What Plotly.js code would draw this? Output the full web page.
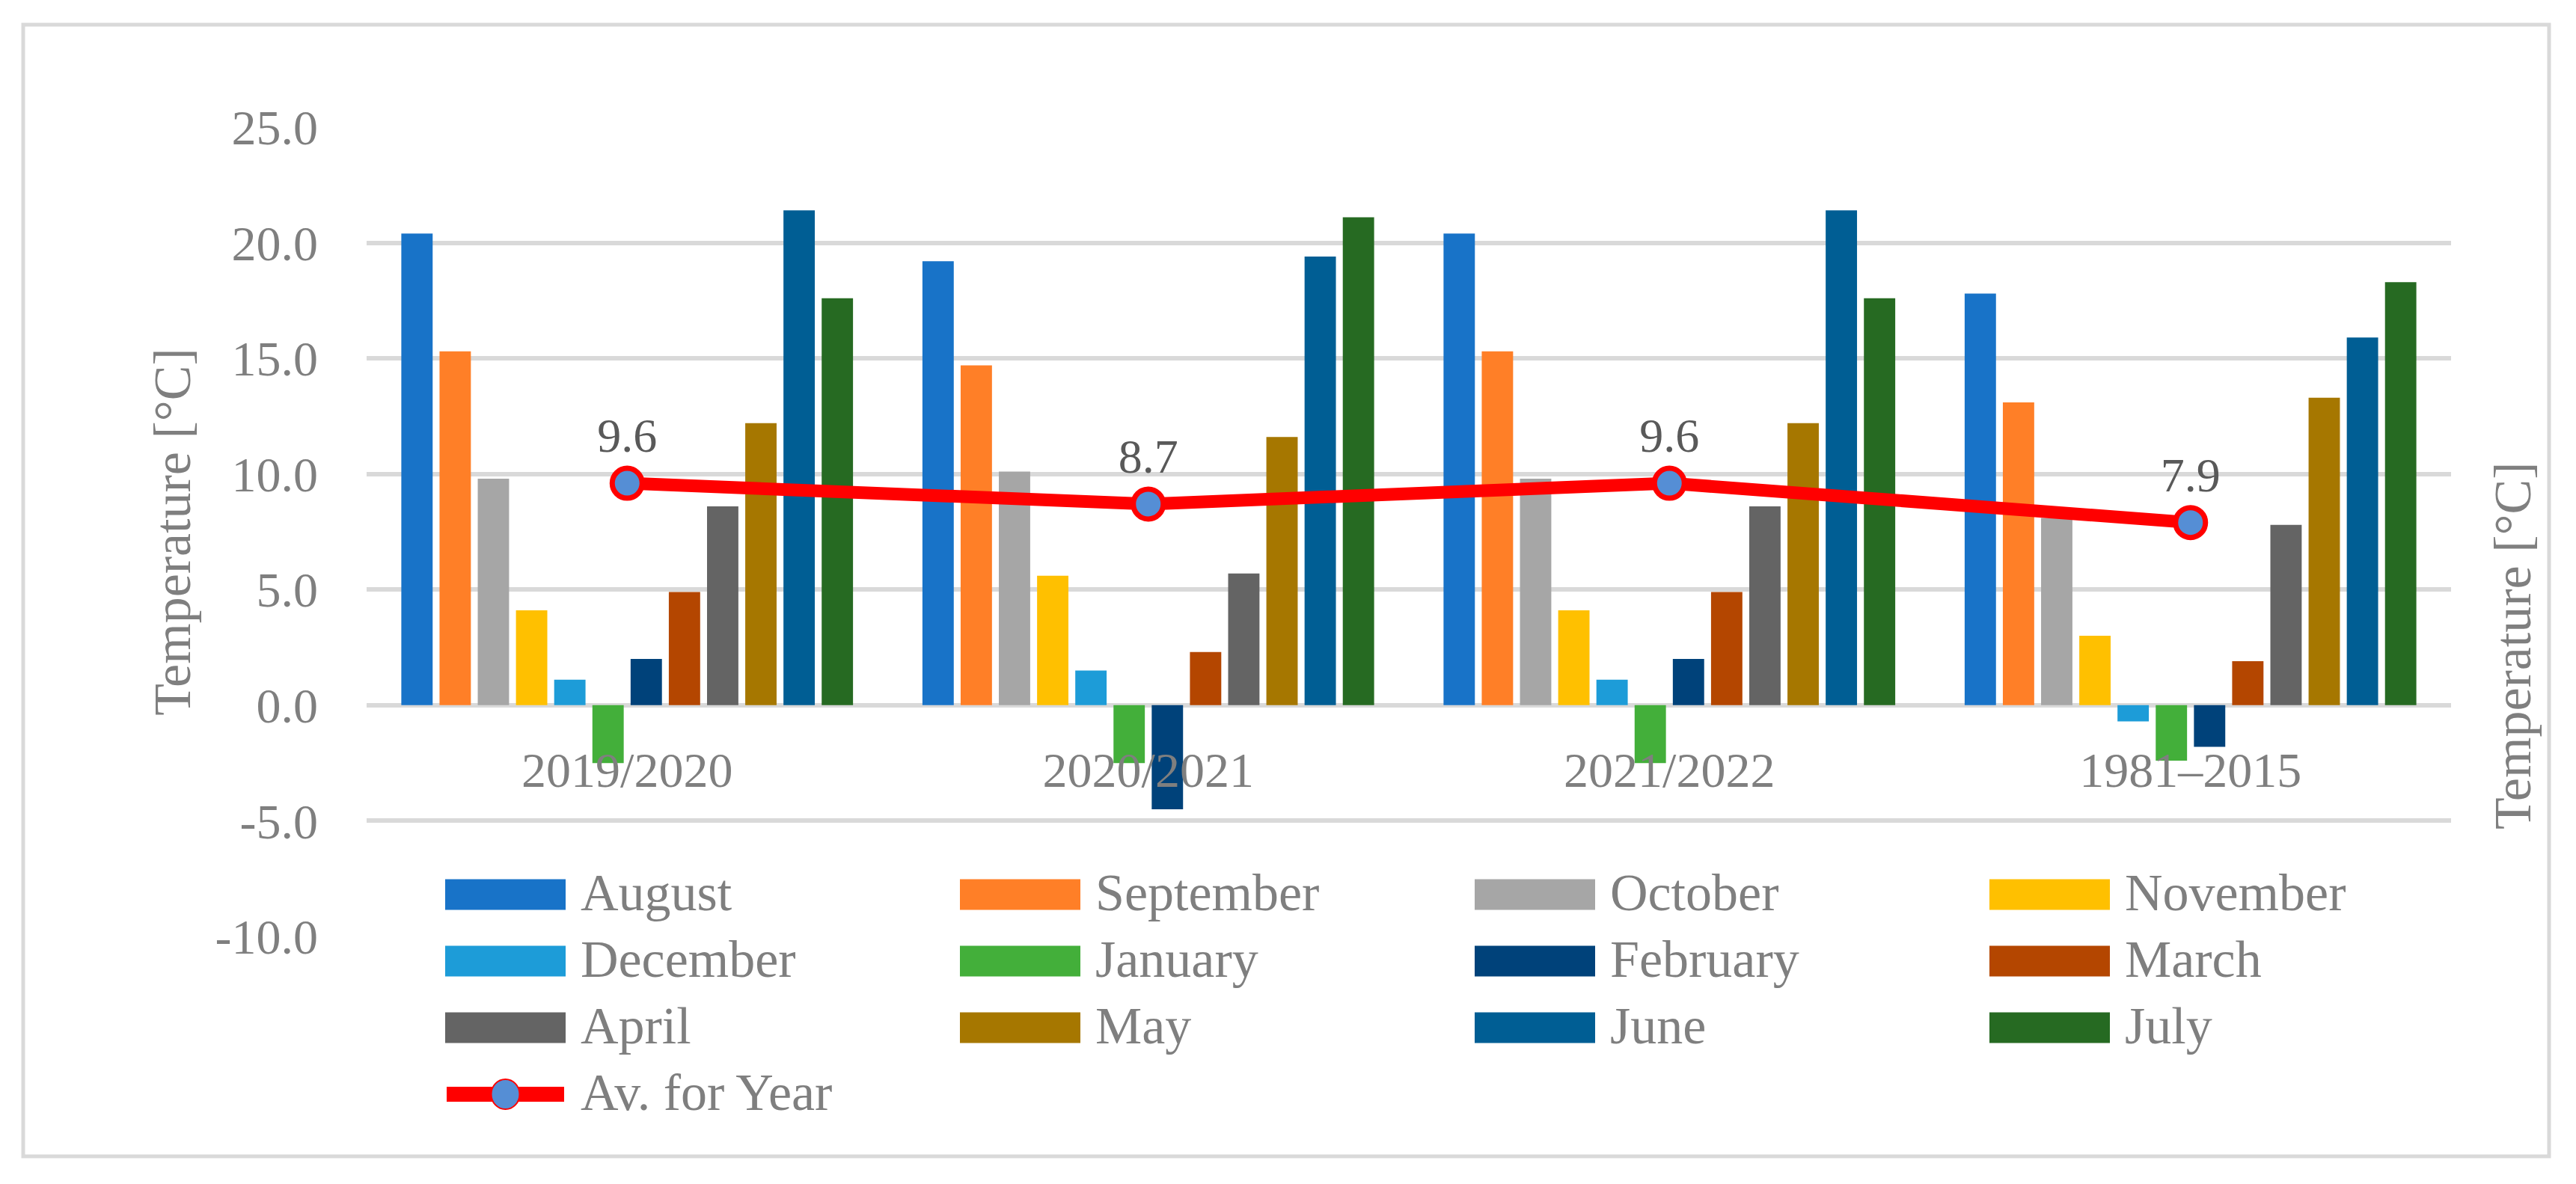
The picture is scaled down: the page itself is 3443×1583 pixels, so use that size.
<!DOCTYPE html>
<html>
<head>
<meta charset="utf-8">
<script src="https://cdn.plot.ly/plotly-3.0.1.min.js"></script>
<style>html,body{margin:0;padding:0;background:#fff;}#chart{width:3443px;height:1583px;}</style>
</head>
<body>
<div id="chart"></div>
<script>
// ---- data ----
const periods = ['2019/2020', '2020/2021', '2021/2022', '1981–2015'];
const months = ['August', 'September', 'October', 'November', 'December', 'January',
                'February', 'March', 'April', 'May', 'June', 'July'];
const monthColors = ['#1873C8', '#FF7F27', '#A6A6A6', '#FFC000', '#1D9CD8', '#43AF3A',
                     '#00427A', '#B44600', '#646464', '#A67700', '#005E94', '#266A22'];
const temps2019_2020 = [20.4, 15.3, 9.8, 4.1, 1.1, -2.5, 2.0, 4.9, 8.6, 12.2, 21.4, 17.6];
const temps2020_2021 = [19.2, 14.7, 10.1, 5.6, 1.5, -2.5, -4.5, 2.3, 5.7, 11.6, 19.4, 21.1];
const temps2021_2022 = [20.4, 15.3, 9.8, 4.1, 1.1, -2.5, 2.0, 4.9, 8.6, 12.2, 21.4, 17.6];
const temps1981_2015 = [17.8, 13.1, 8.1, 3.0, -0.7, -2.4, -1.8, 1.9, 7.8, 13.3, 15.9, 18.3];
const yearAverage = [9.6, 8.7, 9.6, 7.9];
const avgName = 'Av. for Year';
const yTickValues = [-10, -5, 0, 5, 10, 15, 20, 25];
const yTickLabels = ['-10.0', '-5.0', '0.0', '5.0', '10.0', '15.0', '20.0', '25.0'];
const yTitle = 'Temperature [°C]';

// ---- geometry helpers (pixel -> paper) ----
const W = 3443, H = 1583;
const L = 490, R = 3276, T = 170, B = 1252;
const px = x => (x - L) / (R - L);
const py = y => (B - y) / (B - T);

const FONT = 'Liberation Serif, Times New Roman, serif';
const GRAY = '#7F7F7F';

const series = [temps2019_2020, temps2020_2021, temps2021_2022, temps1981_2015];

const traces = months.map((m, i) => ({
  type: 'bar',
  name: m,
  x: periods,
  y: series.map(s => s[i]),
  marker: {color: monthColors[i], line: {width: 0}},
  showlegend: false,
  hoverinfo: 'x+y+name'
}));

traces.push({
  type: 'scatter',
  mode: 'lines+markers+text',
  name: avgName,
  x: periods,
  y: yearAverage,
  text: yearAverage.map(v => v.toFixed(1)),
  textposition: 'top center',
  textfont: {family: FONT, size: 64, color: '#595959'},
  line: {color: '#FF0000', width: 17},
  marker: {size: 40, color: '#558ED5', line: {color: '#FF0000', width: 7}},
  showlegend: false,
  cliponaxis: false
});

// ---- manual legend (built from names/colours) ----
const shapes = [];
const annotations = [];
// outer frame
shapes.push({type: 'rect', xref: 'paper', yref: 'paper', layer: 'below',
  x0: px(31), x1: px(3407), y0: py(1546), y1: py(33),
  line: {color: '#D9D9D9', width: 5}, fillcolor: 'rgba(0,0,0,0)'});

const legX0 = 595, legColStep = 688, legY0 = 1196, legRowStep = 89;
const swW = 161, swH = 41, textGap = 18;
months.forEach((m, i) => {
  const col = i % 4, row = Math.floor(i / 4);
  const x0 = legX0 + col * legColStep;
  const yc = legY0 + row * legRowStep;
  shapes.push({type: 'rect', xref: 'paper', yref: 'paper',
    x0: px(x0), x1: px(x0 + swW), y0: py(yc + swH / 2), y1: py(yc - swH / 2),
    line: {width: 0}, fillcolor: monthColors[i]});
  annotations.push({xref: 'paper', yref: 'paper', x: px(x0 + swW + textGap), y: py(yc - 3),
    xanchor: 'left', yanchor: 'middle', showarrow: false, text: m,
    font: {family: FONT, size: 70, color: GRAY}});
});
{
  const i = months.length;
  const col = i % 4, row = Math.floor(i / 4);
  const x0 = legX0 + col * legColStep;
  const yc = legY0 + row * legRowStep;
  shapes.push({type: 'line', xref: 'paper', yref: 'paper',
    x0: px(x0 + 2), x1: px(x0 + swW - 2), y0: py(yc), y1: py(yc),
    line: {color: '#FF0000', width: 20}});
  shapes.push({type: 'circle', xref: 'paper', yref: 'paper',
    x0: px(x0 + swW / 2 - 19), x1: px(x0 + swW / 2 + 19), y0: py(yc + 20), y1: py(yc - 20),
    line: {color: '#FF0000', width: 2}, fillcolor: '#558ED5'});
  annotations.push({xref: 'paper', yref: 'paper', x: px(x0 + swW + textGap), y: py(yc - 3),
    xanchor: 'left', yanchor: 'middle', showarrow: false, text: avgName,
    font: {family: FONT, size: 70, color: GRAY}});
}
// right axis title
annotations.push({xref: 'paper', yref: 'paper', x: px(3358), y: py(864),
  xanchor: 'center', yanchor: 'middle', showarrow: false, textangle: -90, text: yTitle,
  font: {family: FONT, size: 70, color: GRAY}});

const layout = {
  width: W, height: H,
  margin: {l: L, r: W - R, t: T, b: H - B, pad: 0},
  paper_bgcolor: '#FFFFFF', plot_bgcolor: '#FFFFFF',
  barmode: 'group', bargap: 0.12, bargroupgap: 0.18,
  showlegend: false,
  font: {family: FONT, color: GRAY},
  xaxis: {
    type: 'category', anchor: 'free', position: 10 / 35,
    showgrid: false, showline: false, zeroline: false, ticks: '',
    ticklabelstandoff: 42,
    tickfont: {family: FONT, size: 66, color: GRAY}
  },
  yaxis: {
    range: [-10, 25], tickvals: yTickValues, ticktext: yTickLabels,
    showgrid: true, gridcolor: '#D9D9D9', gridwidth: 6,
    zeroline: false, showline: false, ticks: '',
    ticklabelstandoff: 64,
    tickfont: {family: FONT, size: 66, color: GRAY},
    title: {text: yTitle, standoff: 10, font: {family: FONT, size: 70, color: GRAY}},
    automargin: true
  },
  shapes: shapes,
  annotations: annotations
};

Plotly.newPlot('chart', traces, layout, {displayModeBar: false, responsive: false});
</script>
</body>
</html>
